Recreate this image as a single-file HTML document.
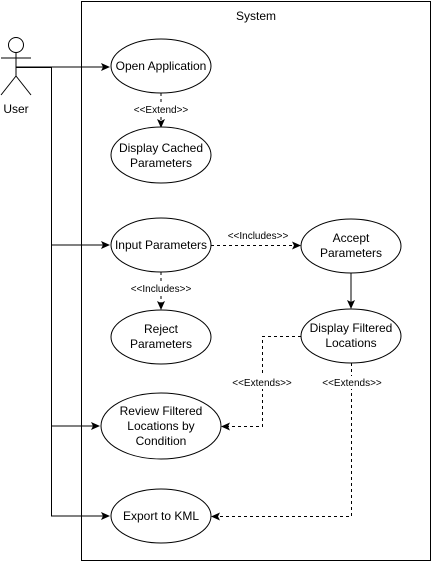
<!DOCTYPE html>
<html><head><style>body{margin:0;background:#fff}svg{display:block}text{font-family:"Liberation Sans",sans-serif;fill:#000}</style></head>
<body>
<svg width="434" height="564" xmlns="http://www.w3.org/2000/svg">
<defs>
<marker id="a" markerWidth="10" markerHeight="10" refX="8" refY="5" orient="auto" markerUnits="userSpaceOnUse"><path d="M0,1 L9,5 L0,9 L2,5 Z" fill="#000"/></marker>
</defs>
<rect x="81.5" y="1.5" width="349" height="559" fill="#fff" stroke="#000"/>
<text x="256" y="20" font-size="12" text-anchor="middle">System</text>
<!-- actor -->
<g stroke="#000" fill="#fff" stroke-width="1">
<circle cx="16" cy="45" r="7.5"/>
<line x1="16" y1="53" x2="16" y2="76"/>
<line x1="1" y1="58" x2="31" y2="58"/>
<line x1="16" y1="76" x2="1" y2="95"/>
<line x1="16" y1="76" x2="31" y2="95"/>
</g>
<text x="16" y="113" font-size="12" text-anchor="middle">User</text>
<g stroke="#000" fill="none">
<line x1="16" y1="67" x2="109" y2="67" marker-end="url(#a)"/>
<polyline points="16,67.5 51.5,67.5 51.5,516"/>
<line x1="51" y1="245" x2="109" y2="245" marker-end="url(#a)"/>
<line x1="51" y1="426" x2="99" y2="426" marker-end="url(#a)"/>
<line x1="51" y1="516" x2="109" y2="516" marker-end="url(#a)"/>
<line x1="351" y1="273" x2="351" y2="308" marker-end="url(#a)"/>
<g stroke-dasharray="3,3">
<line x1="161" y1="93" x2="161" y2="127" marker-end="url(#a)"/>
<line x1="161" y1="272" x2="161" y2="309" marker-end="url(#a)"/>
<line x1="211" y1="245.5" x2="300" y2="245.5" marker-end="url(#a)"/>
<polyline points="301,336.5 262.5,336.5 262.5,426.5 222,426.5" marker-end="url(#a)"/>
<polyline points="351.5,363 351.5,516.5 212,516.5" marker-end="url(#a)"/>
</g>
</g>
<g fill="#fff" stroke="#000">
<ellipse cx="161" cy="66" rx="50" ry="27"/>
<ellipse cx="161" cy="155" rx="50" ry="28"/>
<ellipse cx="161" cy="245" rx="50" ry="27"/>
<ellipse cx="161" cy="337" rx="50" ry="27"/>
<ellipse cx="161" cy="426" rx="60" ry="33"/>
<ellipse cx="161" cy="516" rx="50" ry="27"/>
<ellipse cx="351" cy="246" rx="50" ry="27"/>
<ellipse cx="351" cy="336" rx="50" ry="27"/>
</g>
<g font-size="12" text-anchor="middle">
<text x="161" y="70">Open Application</text>
<text x="161" y="152">Display Cached</text><text x="161" y="167">Parameters</text>
<text x="161" y="249">Input Parameters</text>
<text x="161" y="333">Reject</text><text x="161" y="348">Parameters</text>
<text x="161" y="415">Review Filtered</text><text x="161" y="430">Locations by</text><text x="161" y="445">Condition</text>
<text x="161" y="520">Export to KML</text>
<text x="351" y="242">Accept</text><text x="351" y="257">Parameters</text>
<text x="351" y="332">Display Filtered</text><text x="351" y="347">Locations</text>
</g>
<g font-size="10" text-anchor="middle">
<rect x="128" y="103" width="66" height="13" fill="#fff"/>
<text x="161" y="113">&lt;&lt;Extend&gt;&gt;</text>
<rect x="124" y="282" width="74" height="13" fill="#fff"/>
<text x="161" y="292">&lt;&lt;Includes&gt;&gt;</text>
<text x="258" y="239">&lt;&lt;Includes&gt;&gt;</text>
<rect x="226" y="376" width="74" height="13" fill="#fff"/>
<text x="262" y="386">&lt;&lt;Extends&gt;&gt;</text>
<rect x="316" y="376" width="74" height="13" fill="#fff"/>
<text x="352" y="386">&lt;&lt;Extends&gt;&gt;</text>
</g>
</svg>
</body></html>
